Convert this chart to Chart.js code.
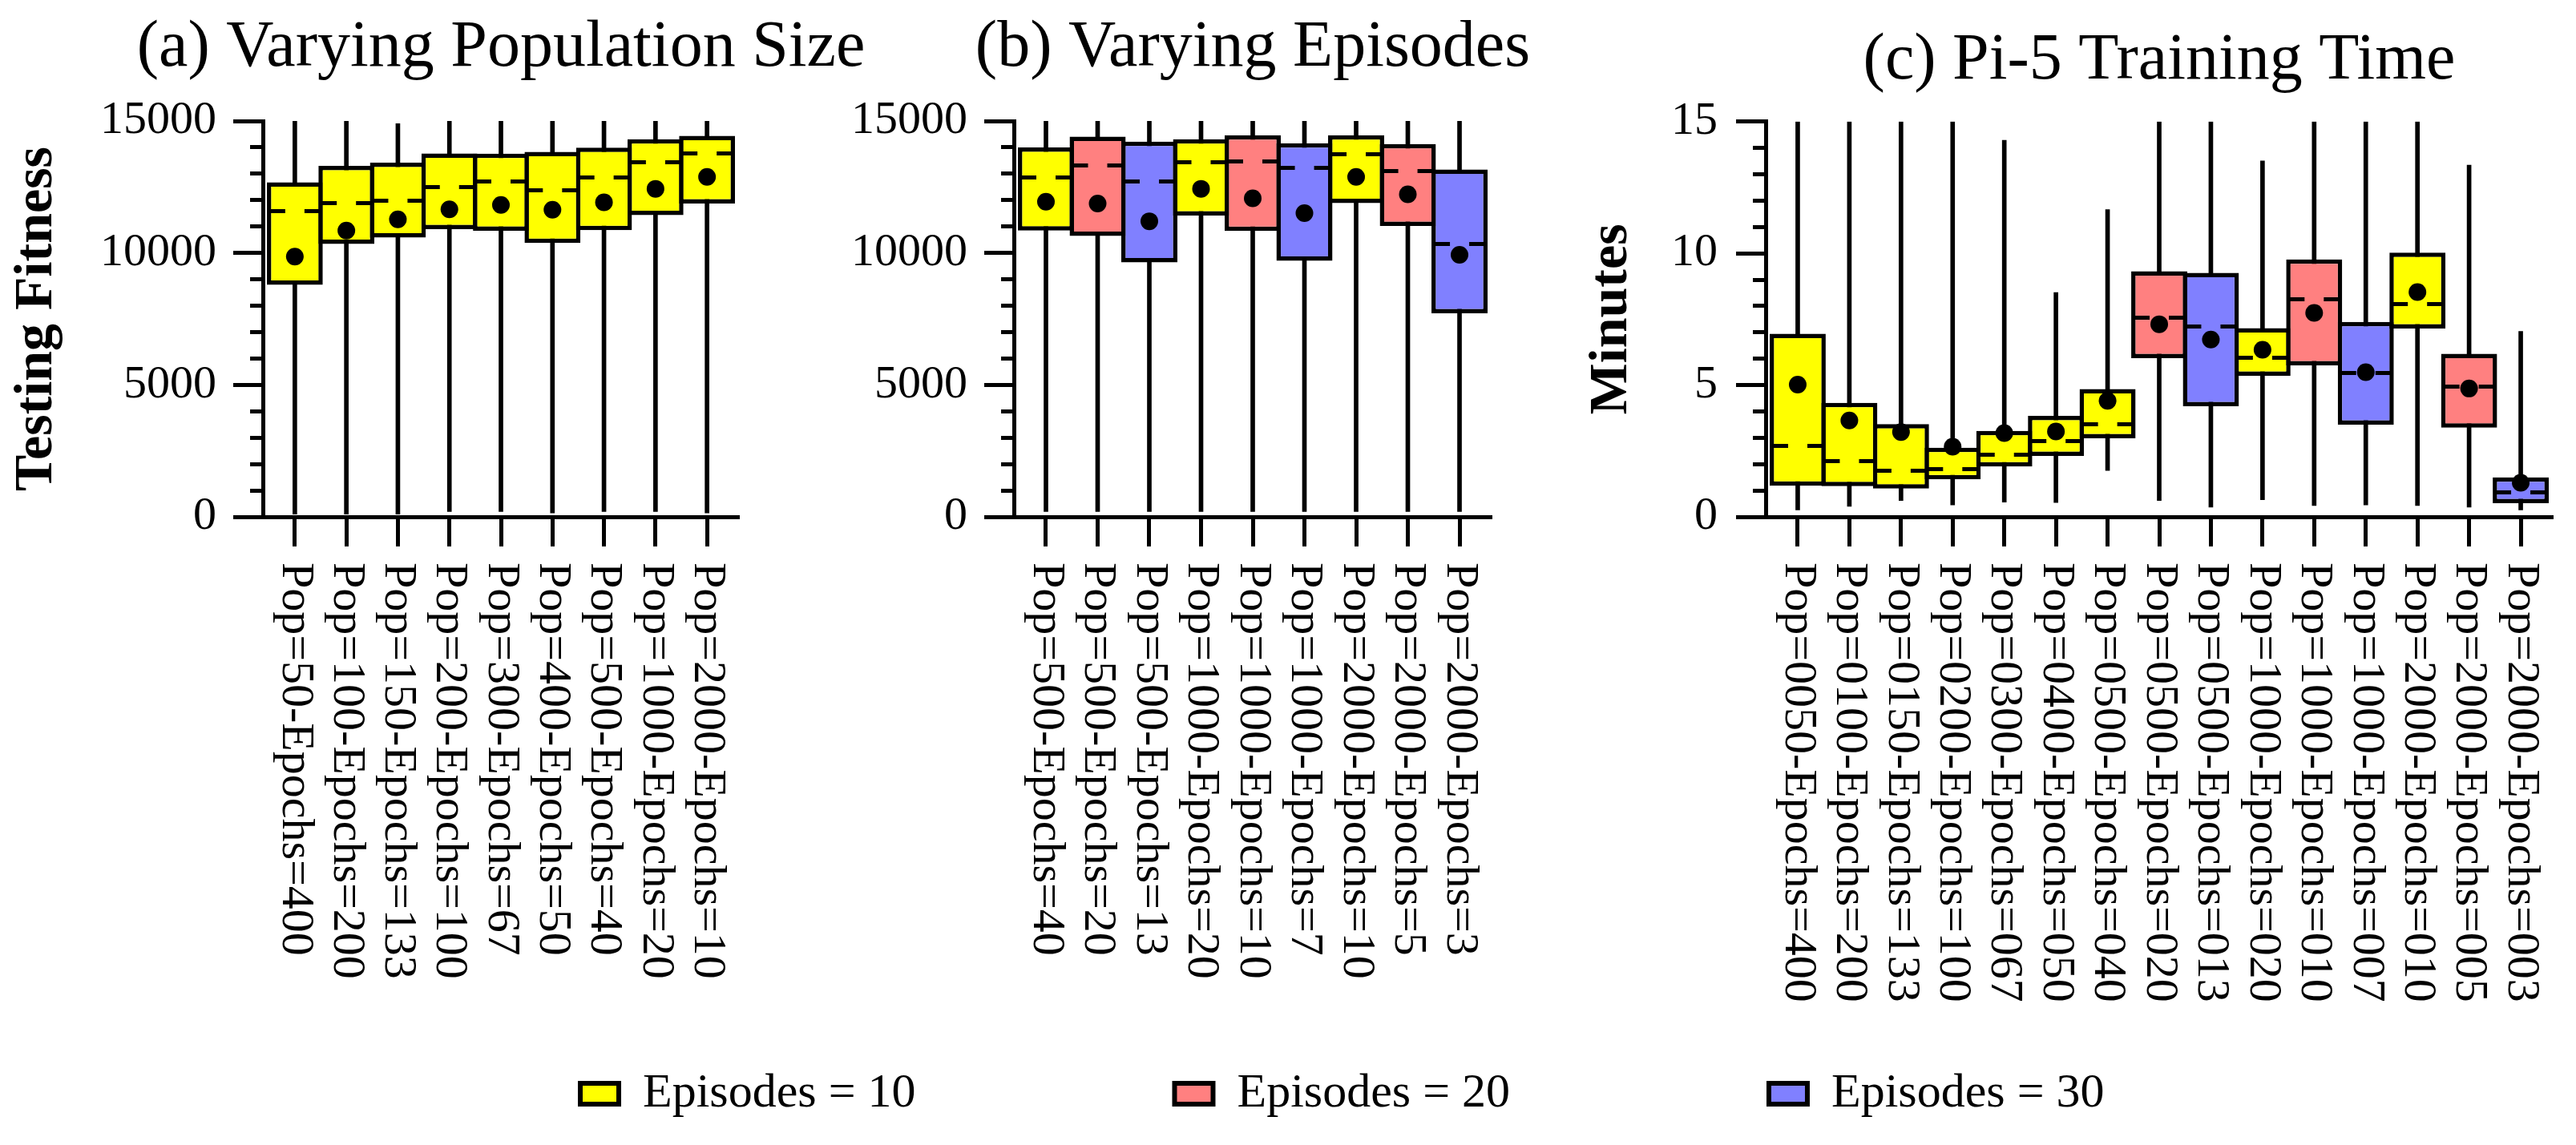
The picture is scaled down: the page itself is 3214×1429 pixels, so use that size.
<!DOCTYPE html>
<html>
<head>
<meta charset="utf-8">
<script src="https://cdn.jsdelivr.net/npm/chart.js"></script>
<style>
html, body { margin: 0; padding: 0; background: #ffffff; overflow: hidden; width: 3214px; height: 1429px; }
#stage { position: relative; width: 3214px; height: 1429px; overflow: hidden; background: #ffffff; }
.holder { position: absolute; }
</style>
</head>
<body>
<div id="stage">
  <div class="holder" style="left:0px;top:0px;width:1250px;height:1300px;"><canvas id="chartA"></canvas></div>
  <div class="holder" style="left:963px;top:0px;width:1200px;height:1300px;"><canvas id="chartB"></canvas></div>
  <div class="holder" style="left:1960px;top:0px;width:1468px;height:1300px;"><canvas id="chartC"></canvas></div>
  <div class="holder" style="left:0px;top:1012px;width:3214px;height:900px;"><canvas id="chartLegend"></canvas></div>
</div>
<script>
// ---------------- DATA ----------------
const episodeValues = [10, 20, 30];
const episodeLabels = ['Episodes = 10', 'Episodes = 20', 'Episodes = 30'];
const episodeColors = ['#FFFF00', '#FF8080', '#8080FF'];

// (a) Varying Population Size
const popCategories = ['Pop=50-Epochs=400', 'Pop=100-Epochs=200', 'Pop=150-Epochs=133', 'Pop=200-Epochs=100', 'Pop=300-Epochs=67', 'Pop=400-Epochs=50', 'Pop=500-Epochs=40', 'Pop=1000-Epochs=20', 'Pop=2000-Epochs=10'];
const popEpisodes = [10, 10, 10, 10, 10, 10, 10, 10, 10];
const popMin    = [100, 100, 100, 200, 200, 150, 200, 200, 150];
const popQ1     = [8790, 10340, 10580, 10900, 10840, 10380, 10860, 11430, 11870];
const popMedian = [11590, 11880, 11970, 12480, 12700, 12370, 12860, 13450, 13770];
const popQ3     = [12680, 13300, 13420, 13770, 13760, 13830, 13990, 14310, 14440];
const popMax    = [15000, 15000, 14900, 15000, 15000, 15000, 15000, 15000, 15000];
const popMean   = [9860, 10850, 11270, 11650, 11820, 11640, 11920, 12430, 12880];

// (b) Varying Episodes
const epiCategories = ['Pop=500-Epochs=40', 'Pop=500-Epochs=20', 'Pop=500-Epochs=13', 'Pop=1000-Epochs=20', 'Pop=1000-Epochs=10', 'Pop=1000-Epochs=7', 'Pop=2000-Epochs=10', 'Pop=2000-Epochs=5', 'Pop=2000-Epochs=3'];
const epiEpisodes = [10, 20, 30, 10, 20, 30, 10, 20, 30];
const epiMin    = [200, 200, 200, 200, 200, 200, 200, 200, 200];
const epiQ1     = [10850, 10640, 9640, 11420, 10830, 9700, 11890, 11020, 7710];
const epiMedian = [12860, 13300, 12700, 13440, 13480, 13220, 13730, 13100, 10340];
const epiQ3     = [14000, 14410, 14220, 14310, 14460, 14160, 14460, 14130, 13160];
const epiMax    = [15000, 15000, 15000, 15000, 15000, 15000, 15000, 15000, 15000];
const epiMean   = [11940, 11870, 11200, 12430, 12070, 11510, 12880, 12220, 9930];

// (c) Pi-5 Training Time (minutes)
const timeCategories = ['Pop=0050-Epochs=400', 'Pop=0100-Epochs=200', 'Pop=0150-Epochs=133', 'Pop=0200-Epochs=100', 'Pop=0300-Epochs=067', 'Pop=0400-Epochs=050', 'Pop=0500-Epochs=040', 'Pop=0500-Epochs=020', 'Pop=0500-Epochs=013', 'Pop=1000-Epochs=020', 'Pop=1000-Epochs=010', 'Pop=1000-Epochs=007', 'Pop=2000-Epochs=010', 'Pop=2000-Epochs=005', 'Pop=2000-Epochs=003'];
const timeEpisodes = [10, 10, 10, 10, 10, 10, 10, 20, 30, 10, 20, 30, 10, 20, 30];
const timeMin    = [0.26, 0.40, 0.62, 0.45, 0.56, 0.54, 1.76, 0.62, 0.37, 0.65, 0.43, 0.45, 0.43, 0.37, 0.26];
const timeQ1     = [1.18, 1.16, 1.07, 1.42, 1.91, 2.31, 2.98, 6.02, 4.20, 5.35, 5.75, 3.50, 7.15, 3.38, 0.52];
const timeMedian = [2.68, 2.12, 1.74, 1.80, 2.37, 2.88, 3.52, 7.55, 7.21, 6.03, 8.25, 5.46, 8.08, 4.93, 0.93];
const timeQ3     = [6.95, 4.33, 3.52, 2.62, 3.26, 3.83, 4.85, 9.32, 9.26, 7.16, 9.77, 7.40, 10.03, 6.19, 1.50];
const timeMax    = [15, 15, 15, 15, 14.29, 8.51, 11.66, 15, 15, 13.51, 15, 15, 15, 13.35, 7.04];
const timeMean   = [5.02, 3.66, 3.22, 2.66, 3.18, 3.24, 4.40, 7.31, 6.73, 6.34, 7.74, 5.49, 8.53, 4.87, 1.29];

// ---------------- STYLE / HELPERS ----------------
Chart.defaults.font.family = '"Liberation Serif", "Times New Roman", serif';
Chart.defaults.color = '#000000';

function dashMark(w, h, seg) {
  const c = document.createElement('canvas');
  c.width = w; c.height = h;
  const g = c.getContext('2d');
  g.fillStyle = '#000000';
  g.fillRect(0, 0, seg, h);
  g.fillRect(w - seg, 0, seg, h);
  return c;
}
const medianMark = dashMark(64, 5, 20);

const xLabelPlugin = {
  id: 'xlabels',
  afterDraw(chart, args, opts) {
    const ctx = chart.ctx;
    const xs = chart.scales.x;
    ctx.save();
    ctx.font = '58px "Liberation Serif"';
    ctx.fillStyle = '#000000';
    ctx.textAlign = 'left';
    ctx.textBaseline = 'middle';
    opts.labels.forEach((lab, i) => {
      const x = xs.getPixelForValue(i);
      ctx.save();
      ctx.translate(x, chart.chartArea.bottom + opts.gap);
      ctx.rotate(Math.PI / 2);
      ctx.fillText(lab, 0, 0);
      ctx.restore();
    });
    ctx.restore();
  }
};

function isMinorTick(c, major) {
  if (!c.tick) return false;
  const r = c.tick.value / major;
  return Math.abs(r - Math.round(r)) > 1e-6;
}

function makePanel(id, cfg) {
  const n = cfg.categories.length;
  const idx = cfg.categories.map((_, i) => i);
  const fills = cfg.episodes.map(e => episodeColors[episodeValues.indexOf(e)]);
  return new Chart(document.getElementById(id), {
    type: 'bar',
    data: {
      datasets: [
        { type: 'scatter', label: 'mean', data: idx.map(i => ({ x: i, y: cfg.mean[i] })),
          pointStyle: 'circle', pointRadius: 11, backgroundColor: '#000000', borderWidth: 0, order: 1 },
        { type: 'scatter', label: 'median', data: idx.map(i => ({ x: i, y: cfg.median[i] })),
          pointStyle: medianMark, pointRadius: 5, order: 2 },
        { type: 'bar', label: 'box', data: idx.map(i => ({ x: i, y: [cfg.q1[i], cfg.q3[i]] })),
          backgroundColor: fills, borderColor: '#000000', borderWidth: 5.5, borderSkipped: false,
          barPercentage: 1.085, categoryPercentage: 1, grouped: false, order: 3 },
        { type: 'bar', label: 'whisker', data: idx.map(i => ({ x: i, y: [cfg.min[i], cfg.max[i]] })),
          backgroundColor: '#000000', borderWidth: 0, barThickness: 5, grouped: false, order: 4 }
      ]
    },
    options: {
      responsive: true,
      maintainAspectRatio: false,
      animation: false,
      events: [],
      layout: { padding: { left: 0, right: 0, top: 0, bottom: 618 } },
      scales: {
        x: {
          type: 'linear', min: -0.62, max: n - 1 + 0.62, offset: false,
          afterBuildTicks: s => { s.ticks = idx.map(v => ({ value: v })); },
          afterFit: s => { s.height = 37; },
          ticks: { display: false },
          grid: { display: true, offset: false, drawOnChartArea: false, drawTicks: true, tickLength: 37, tickWidth: 5, tickColor: '#000000' },
          border: { display: true, color: '#000000', width: 5 }
        },
        y: {
          type: 'linear', position: 'left', min: 0, max: cfg.yMax,
          afterFit: s => { s.width = cfg.yWidth; },
          ticks: {
            stepSize: cfg.minorStep, autoSkip: false, padding: cfg.tickPad,
            font: { size: 58 }, color: '#000000',
            callback: v => (Math.abs(v / cfg.majorStep - Math.round(v / cfg.majorStep)) < 1e-6 ? String(v) : '')
          },
          grid: {
            display: true, drawOnChartArea: false, drawTicks: true, tickLength: 37, tickWidth: 5, tickColor: '#000000',
            tickBorderDash: c => (isMinorTick(c, cfg.majorStep) ? [16, 200] : []),
            tickBorderDashOffset: c => (isMinorTick(c, cfg.majorStep) ? 195 : 0)
          },
          border: { display: true, color: '#000000', width: 5 },
          title: {
            display: !!cfg.yTitle, text: cfg.yTitle || '', color: '#000000',
            font: { size: 68, weight: 'bold', lineHeight: 1.2 },
            padding: { top: cfg.yTitlePad, bottom: 0 }
          }
        },
        // empty right-hand spacer axis so the title centres over the plot area
        ySpacer: {
          type: 'linear', position: 'right', display: true,
          afterFit: s => { s.width = cfg.yWidth; },
          ticks: { display: false },
          grid: { display: false, drawTicks: false },
          border: { display: false }
        }
      },
      plugins: {
        legend: { display: false },
        tooltip: { enabled: false },
        title: {
          display: true, text: cfg.title, color: '#000000',
          font: { size: 82, weight: 'normal', lineHeight: 1.2 },
          padding: { top: cfg.titleTop, bottom: cfg.titleBottom }
        },
        xlabels: { labels: cfg.categories, gap: 57 }
      }
    },
    plugins: [xLabelPlugin]
  });
}

makePanel('chartA', {
  title: '(a) Varying Population Size', yTitle: 'Testing Fitness', yTitlePad: 6,
  categories: popCategories, episodes: popEpisodes,
  min: popMin, q1: popQ1, median: popMedian, q3: popQ3, max: popMax, mean: popMean,
  yMax: 15000, minorStep: 1000, majorStep: 5000, tickPad: 21,
  yWidth: 328, titleTop: 11, titleBottom: 41.6
});

makePanel('chartB', {
  title: '(b) Varying Episodes', yTitle: '', yTitlePad: 0,
  categories: epiCategories, episodes: epiEpisodes,
  min: epiMin, q1: epiQ1, median: epiMedian, q3: epiQ3, max: epiMax, mean: epiMean,
  yMax: 15000, minorStep: 1000, majorStep: 5000, tickPad: 21,
  yWidth: 302, titleTop: 11, titleBottom: 41.6
});

makePanel('chartC', {
  title: '(c) Pi-5 Training Time', yTitle: 'Minutes', yTitlePad: 11,
  categories: timeCategories, episodes: timeEpisodes,
  min: timeMin, q1: timeQ1, median: timeMedian, q3: timeQ3, max: timeMax, mean: timeMean,
  yMax: 15, minorStep: 1, majorStep: 5, tickPad: 23,
  yWidth: 243, titleTop: 27, titleBottom: 26.4
});

// Legend (separate chart holding only the legend)
new Chart(document.getElementById('chartLegend'), {
  type: 'bar',
  data: {
    labels: [],
    datasets: episodeLabels.map((lab, i) => ({
      label: lab, data: [], backgroundColor: episodeColors[i], borderColor: '#000000', borderWidth: 6
    }))
  },
  options: {
    responsive: true,
    maintainAspectRatio: false,
    animation: false,
    events: [],
    layout: { padding: { left: 401, right: 0, top: 0, bottom: 0 } },
    scales: { x: { display: false }, y: { display: false } },
    plugins: {
      tooltip: { enabled: false },
      title: { display: false },
      legend: {
        display: true, position: 'top', align: 'start',
        labels: { boxWidth: 48, boxHeight: 26, padding: 323, font: { size: 60 }, color: '#000000' }
      }
    }
  }
});
</script>
</body>
</html>
